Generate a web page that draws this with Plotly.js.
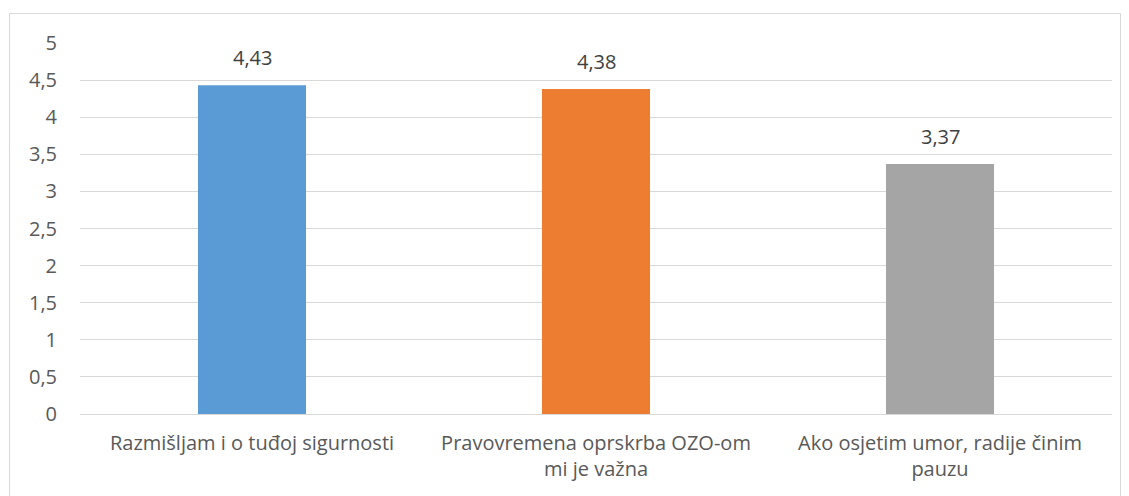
<!DOCTYPE html>
<html>
<head>
<meta charset="utf-8">
<script src="https://cdn.plot.ly/plotly-3.0.1.min.js"></script>
<style>
  html, body { margin: 0; padding: 0; background: #ffffff; }
  #chart { width: 1129px; height: 496px; }
</style>
</head>
<body>
<div id="chart"></div>
<script>
const categories = [
  "Razmišljam i o tuđoj sigurnosti",
  "Pravovremena oprskrba OZO-om<br>mi je važna",
  "Ako osjetim umor, radije činim<br>pauzu"
];
const values = [4.43, 4.38, 3.37];
const valueLabels = ["4,43", "4,38", "3,37"];
const barColors = ["#5B9BD5", "#ED7D31", "#A5A5A5"];
const yTicks = [0, 0.5, 1, 1.5, 2, 2.5, 3, 3.5, 4, 4.5, 5];

const fontFamily = "Open Sans, Noto Sans, sans-serif";
const textColor = "#595959";
const labelColor = "#404040";

const trace = {
  type: "bar",
  x: categories,
  y: values,
  marker: { color: barColors },
  hoverinfo: "none"
};

const annotations = categories.map((c, i) => ({
  x: c,
  y: values[i],
  xref: "x",
  yref: "y",
  text: valueLabels[i],
  showarrow: false,
  yanchor: "bottom",
  yshift: 12,
  font: { family: fontFamily, size: 20, color: labelColor }
}));

const layout = {
  width: 1129,
  height: 496,
  margin: { l: 80, r: 17, t: 43, b: 82 },
  paper_bgcolor: "#ffffff",
  plot_bgcolor: "#ffffff",
  separators: ",.",
  bargap: 0.686,
  showlegend: false,
  font: { family: fontFamily, size: 20, color: textColor },
  xaxis: {
    showgrid: false,
    showline: false,
    ticks: "",
    tickfont: { family: fontFamily, size: 20, color: textColor },
    ticklabelstandoff: 15
  },
  yaxis: {
    range: [0, 5],
    tickvals: yTicks,
    showgrid: true,
    gridcolor: "#D9D9D9",
    gridwidth: 1,
    zeroline: true,
    zerolinecolor: "#D9D9D9",
    zerolinewidth: 1,
    showline: false,
    ticks: "",
    tickfont: { family: fontFamily, size: 20, color: textColor },
    ticklabelstandoff: 22
  },
  annotations: annotations,
  shapes: [{
    type: "rect",
    xref: "paper", yref: "paper",
    x0: (9.5 - 80) / 1032, x1: (1120.5 - 80) / 1032,
    y0: -90 / 371, y1: (414 - 13.5) / 371,
    line: { color: "#D9D9D9", width: 1 },
    fillcolor: "rgba(0,0,0,0)",
    layer: "below"
  }]
};

Plotly.newPlot("chart", [trace], layout, { displayModeBar: false, staticPlot: true });
</script>
</body>
</html>
